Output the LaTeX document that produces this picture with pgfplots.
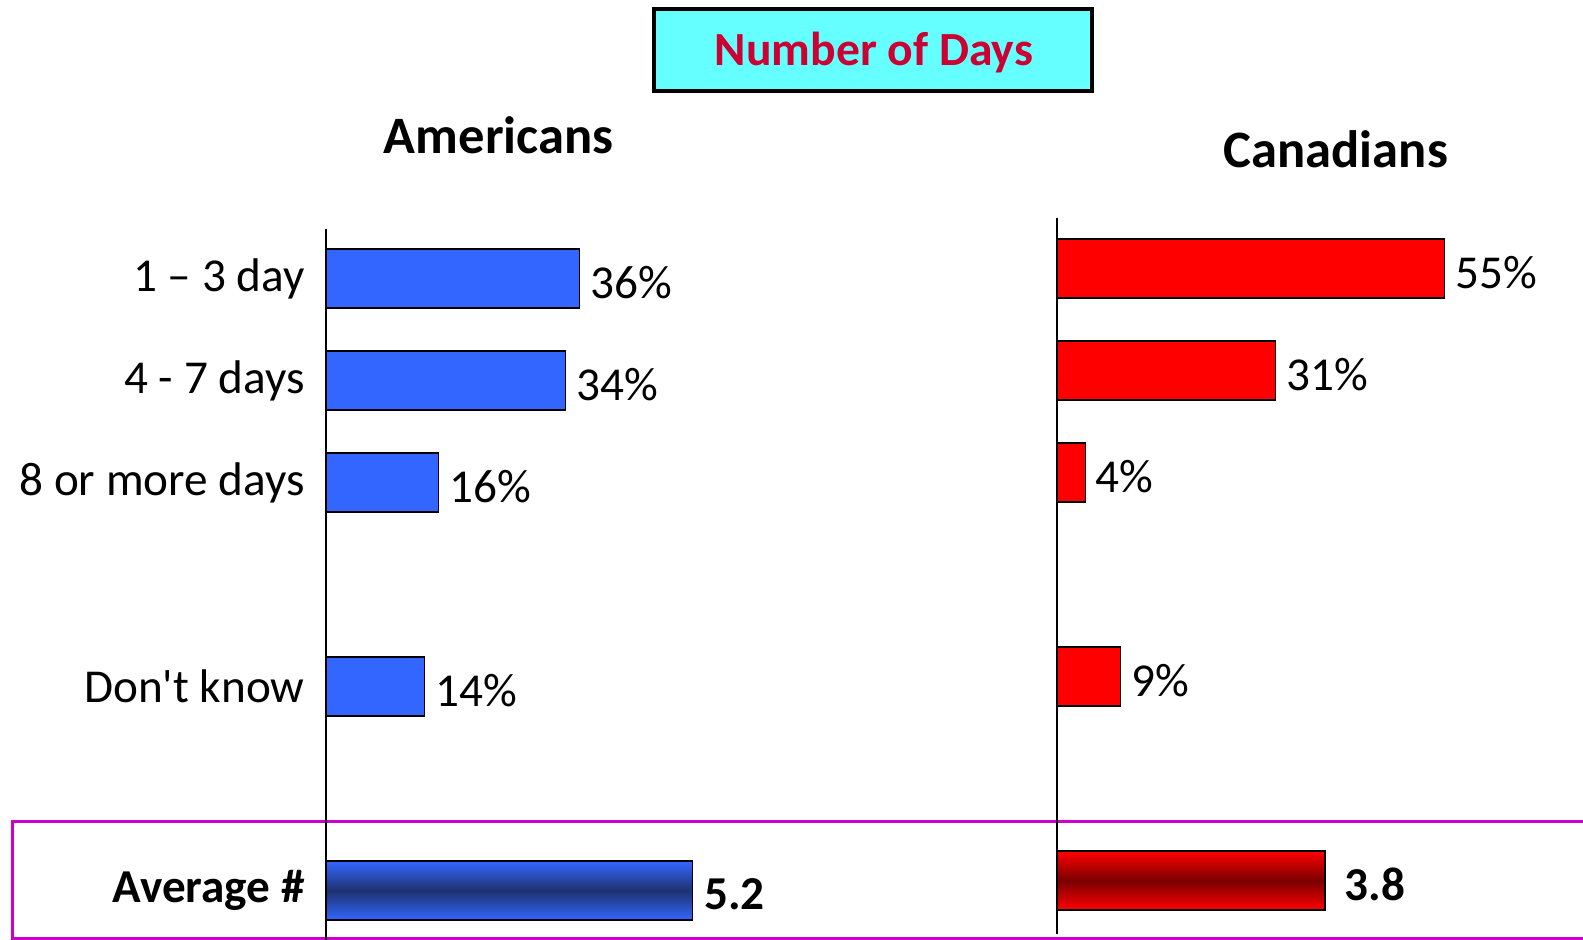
\documentclass[border=0pt]{standalone}
\usepackage{pgfplots}
\pgfplotsset{compat=1.18}
\usepackage{fontspec}
\setmainfont{Carlito}[Ligatures=TeXOff]
\definecolor{barblue}{HTML}{3366FF}
\definecolor{navyband}{HTML}{1E3270}
\definecolor{barred}{HTML}{FF0000}
\definecolor{darkband}{HTML}{7A0000}
\definecolor{titlecyan}{HTML}{66FFFF}
\definecolor{titlered}{HTML}{CC0033}
\definecolor{boxmagenta}{HTML}{CC00CC}
\newcommand{\txt}{\fontsize{23.6}{28}\selectfont}
\pgfplotsset{
  panel/.style={
    xbar, bar width=29.5pt, bar shift=0pt,
    x=3.525pt, y=51pt, y dir=reverse,
    xmin=0, xmax=60, anchor=origin, clip=false,
    axis x line=none, axis y line=left,
    y axis line style={-, line width=0.6pt},
    major tick length=0pt,
    /pgf/number format/assume math mode=true,
    nodes near coords={\pgfmathprintnumber{\pgfplotspointmeta}\%},
    every node near coord/.append style={anchor=west, inner sep=0pt, xshift=5pt, yshift=-2pt, font=\txt},
  },
  avg/.style={
    xbar, bar width=29.5pt, bar shift=0pt,
    x=35.25pt, y=51pt, y dir=reverse,
    xmin=0, xmax=6, anchor=origin, clip=false, hide axis,
    /pgf/number format/assume math mode=true,
    nodes near coords={\pgfmathprintnumber[fixed, precision=1]{\pgfplotspointmeta}},
    every node near coord/.append style={anchor=west, inner sep=0pt, yshift=-2pt, font=\txt\bfseries},
  },
}
\begin{document}
\begin{tikzpicture}
\path[use as bounding box] (0,0) rectangle (791.5pt,470pt);
% heading
\draw[line width=2pt, fill=titlecyan] (327pt,424.5pt) rectangle (546pt,465.5pt);
\node[font=\fontsize{23.8}{28}\selectfont\bfseries, text=titlered] at (437pt,443.75pt) {Number of Days};
\node[font=\fontsize{26.3}{30}\selectfont\bfseries] at (249.4pt,402.5pt) {Americans};
\node[font=\fontsize{26.3}{30}\selectfont\bfseries] at (667.9pt,395.3pt) {Canadians};
\draw[line width=1.5pt, draw=boxmagenta] (6pt,0.75pt) rectangle (800pt,59pt);

% Americans
\begin{axis}[panel, at={(163pt,330.7pt)}, ymin=-0.486, ymax=6.484,
    ytick={0,1,2,4,6},
    yticklabels={1 – 3 day, 4 - 7 days, 8 or more days, Don't know, \textbf{Average \#}},
    yticklabel style={font=\txt, inner sep=0pt, xshift=-10.5pt}]
  \addplot[fill=barblue, draw=black, line width=0.65pt] coordinates {
    (36,0) (34,1) (16,2) (14,4)
  };
\end{axis}
\begin{axis}[avg, at={(163pt,330.7pt)}, ymin=-0.486, ymax=6.484,
    every node near coord/.append style={xshift=5.5pt}]
  \addplot[draw=black, line width=0.65pt, top color=barblue, bottom color=barblue, middle color=navyband] coordinates {
    (5.2,6)
  };
\end{axis}

% Canadians
\begin{axis}[panel, at={(528.5pt,335.7pt)}, ymin=-0.496, ymax=6.52, ytick=\empty]
  \addplot[fill=barred, draw=black, line width=0.65pt] coordinates {
    (55,0) (31,1) (4,2) (9,4)
  };
\end{axis}
\begin{axis}[avg, at={(528.5pt,335.7pt)}, ymin=-0.496, ymax=6.52,
    every node near coord/.append style={xshift=9.5pt}]
  \addplot[draw=black, line width=0.65pt, top color=barred, bottom color=barred, middle color=darkband] coordinates {
    (3.8,6)
  };
\end{axis}
\end{tikzpicture}
\end{document}
